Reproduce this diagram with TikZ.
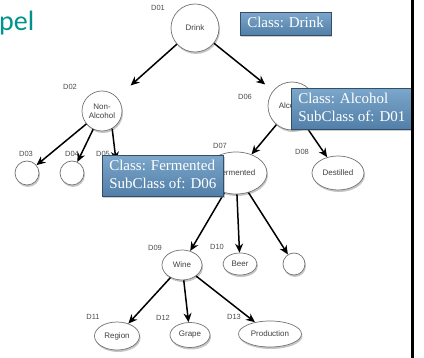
\documentclass[tikz,border=0pt]{standalone}
\usepackage{fontspec}
\setsansfont{Liberation Sans}
\newfontfamily\notefont{Liberation Serif}
\newfontfamily\titlefont{Carlito}
\usetikzlibrary{shapes.geometric,shadows,arrows.meta}
\definecolor{titleteal}{RGB}{0,146,140}
\definecolor{noteblue}{RGB}{92,144,190}
\begin{document}
\begin{tikzpicture}[x=1pt,y=-1pt,
  concept/.style={draw=black!55, line width=0.7pt, fill=white, inner sep=0pt,
    font=\sffamily\fontsize{8}{9}\selectfont, text=black!75,
    drop shadow={opacity=0.45, shadow xshift=1pt, shadow yshift=-2pt}},
  bubble/.style={concept, circle, minimum size=#1},
  oval/.style n args={2}{concept, ellipse, minimum width=#1, minimum height=#2},
  tag/.style={font=\sffamily\fontsize{7.5}{8}\selectfont, text=black!70, inner sep=0pt},
  link/.style={-{Stealth[length=9pt,width=8pt]}, line width=1.5pt},
  note/.style={draw=noteblue!55!black, line width=0.5pt,
    top color=noteblue!80!white, bottom color=noteblue!88!black,
    text=white, font=\notefont\fontsize{15}{18}\selectfont, align=left,
    anchor=north west, inner xsep=7pt, inner ysep=2.5pt,
    drop shadow={opacity=0.4, shadow xshift=1.2pt, shadow yshift=-1.6pt}}
]
\useasboundingbox (0,0) rectangle (424,358);

\node[anchor=base west, inner sep=0pt, text=titleteal,
  font=\titlefont\fontsize{28}{32}\selectfont] (title) at (-1,31) {pel};

% concepts
\node[bubble=48pt] (d01) at (195,28) {Drink};
\node[bubble=40pt, align=center] (d02) at (102,111) {Non-\\Alcohol};
\node[bubble=24pt] (d03) at (27,173) {};
\node[bubble=24pt] (d04) at (72,173) {};
\node[bubble=24pt] (d05) at (116,173) {};
\node[bubble=48pt] (d06) at (292,106) {Alcohol};
\node[oval={62pt}{42pt}] (d07) at (236,173) {Fermented};
\node[oval={52pt}{34pt}] (d08) at (338,173) {Destilled};
\node[oval={40pt}{30pt}] (d09) at (182,265) {Wine};
\node[oval={34pt}{22pt}] (d10) at (240,264) {Beer};
\node[bubble=22pt] (d14) at (294,264) {};
\node[oval={45pt}{28pt}] (d11) at (117,336) {Region};
\node[oval={40pt}{25pt}] (d12) at (190,335) {Grape};
\node[oval={63pt}{26pt}] (d13) at (270,334) {Production};

% ids
\node[tag] (l01) at (158,8) {D01};
\node[tag] (l02) at (70,87) {D02};
\node[tag] (l03) at (26,154) {D03};
\node[tag] (l04) at (72,154) {D04};
\node[tag] (l05) at (103,154) {D05};
\node[tag] (l06) at (245,97) {D06};
\node[tag] (l07) at (220,146) {D07};
\node[tag] (l08) at (302,152) {D08};
\node[tag] (l09) at (155,248) {D09};
\node[tag] (l10) at (217,247) {D10};
\node[tag] (l11) at (93,317) {D11};
\node[tag] (l12) at (163,318) {D12};
\node[tag] (l13) at (234,317) {D13};

% links
\draw[link, shorten >=18pt] (d01) -- (d02);
\draw[link, shorten >=10pt] (d01) -- (d06);
\draw[link] (d02) -- (d03);
\draw[link] (d02) -- (d04);
\draw[link] (d02.300) -- (d05.north);
\draw[link] (d06) -- (d07);
\draw[link] (d06) -- (d08);
\foreach \t in {d09,d10,d14} \draw[link] (d07) -- (\t);
\foreach \t in {d11,d12,d13} \draw[link] (d09) -- (\t);

% class notes
\node[note] (n01) at (240,12) {\strut Class: Drink};
\node[note] (n06) at (291,88) {\strut Class: Alcohol\\\strut SubClass of: D01};
\node[note] (n07) at (102,155) {\strut Class: Fermented\\\strut SubClass of: D06};

\fill (411,0) rectangle (414,358);
\end{tikzpicture}
\end{document}
